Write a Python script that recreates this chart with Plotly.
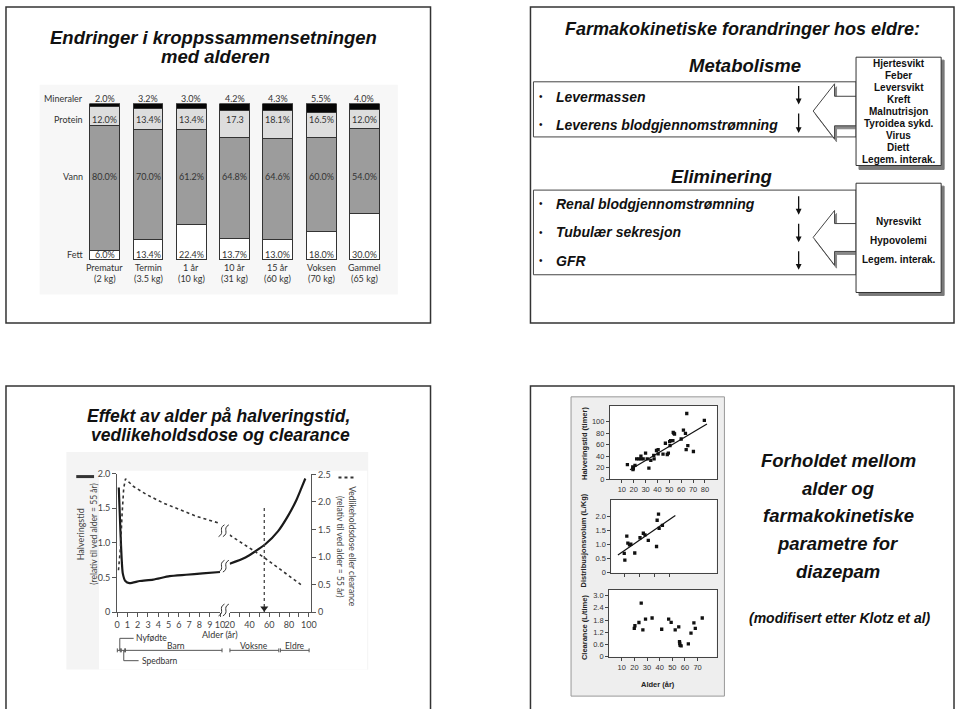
import plotly.graph_objects as go

W, H = 960, 709
def X(x): return x / W
def Y(y): return 1 - y / H

# ---------------- DATA ----------------
# Body composition (top-left slide)
comp_categories = ["Prematur", "Termin", "1 år", "10 år", "15 år", "Voksen", "Gammel"]
comp_weights = ["(2 kg)", "(3.5 kg)", "(10 kg)", "(31 kg)", "(60 kg)", "(70 kg)", "(65 kg)"]
fett = [6.0, 13.4, 22.4, 13.7, 13.0, 18.0, 30.0]
vann = [80.0, 70.0, 61.2, 64.8, 64.6, 60.0, 54.0]
protein = [12.0, 13.4, 13.4, 17.3, 18.1, 16.5, 12.0]
mineraler = [2.0, 3.2, 3.0, 4.2, 4.3, 5.5, 4.0]
mineraler_labels = ["2.0%", "3.2%", "3.0%", "4.2%", "4.3%", "5.5%", "4.0%"]
protein_labels = ["12.0%", "13.4%", "13.4%", "17.3", "18.1%", "16.5%", "12.0%"]
vann_labels = ["80.0%", "70.0%", "61.2%", "64.8%", "64.6%", "60.0%", "54.0%"]
fett_labels = ["6.0%", "13.4%", "22.4%", "13.7%", "13.0%", "18.0%", "30.0%"]

# Pharmacokinetic changes (top-right slide)
metab_items = ["Levermassen", "Leverens blodgjennomstrømning"]
metab_factors = ["Hjertesvikt", "Feber", "Leversvikt", "Kreft", "Malnutrisjon",
                 "Tyroidea sykd.", "Virus", "Diett", "Legem. interak."]
elim_items = ["Renal blodgjennomstrømning", "Tubulær sekresjon", "GFR"]
elim_factors = ["Nyresvikt", "Hypovolemi", "Legem. interak."]

# Age effect curves (bottom-left slide)
halv_age_a = [0.16, 0.26, 0.39, 0.55, 0.8, 1.2, 2.2, 3.5, 5.1, 6.7, 8.3, 10]
halv_val_a = [1.80, 1.41, 0.93, 0.56, 0.45, 0.42, 0.45, 0.47, 0.52, 0.54, 0.56, 0.58]
halv_age_b = [20, 36, 56, 69, 79, 87.5, 92.5, 96.5]
halv_val_b = [0.70, 0.79, 0.98, 1.17, 1.39, 1.62, 1.79, 1.93]
dose_age_a = [0.13, 0.33, 0.48, 0.64, 0.81, 1.6, 2.9, 4.5, 6.1, 7.7, 9.3, 10]
dose_val_a = [0.76, 1.18, 1.77, 2.25, 2.42, 2.28, 2.13, 1.98, 1.86, 1.74, 1.65, 1.61]
dose_age_b = [20, 55, 92]
dose_val_b = [1.40, 0.99, 0.50]
ref_age = [55, 55]
ref_val = [1.89, 0.0]
ticks_a = [0, 1, 2, 3, 4, 5, 6, 7, 8, 9, 10]
ticks_b = [20, 30, 40, 50, 60, 70, 80, 90, 100]
ticks_b_text = ["20", "", "40", "", "60", "", "80", "", "100"]

# Diazepam scatter plots (bottom-right slide)
thalf_age = [14.7, 19.2, 19.7, 19.4, 21.1, 22.5, 24.4, 26.1, 26.1, 28.0, 30.0, 31.4, 32.8,
             34.4, 36.9, 37.2, 39.2, 40.6, 40.6, 44.7, 46.7, 48.3, 49.2, 50.3, 50.6, 51.1,
             53.0, 53.3, 53.9, 54.4, 60.0, 61.9, 63.6, 64.2, 64.7, 65.6, 70.3, 79.5]
thalf_hours = [25.3, 21.3, 18.4, 16.7, 24.0, 35.6, 35.6, 35.6, 40.2, 35.6, 45.4, 35.6, 19.5,
               32.8, 41.4, 35.6, 50.0, 51.7, 44.3, 43.7, 62.6, 43.1, 45.4, 65.5, 58.6, 67.2,
               67.2, 81.6, 79.9, 78.7, 70.0, 85.6, 79.9, 51.7, 114.4, 58.6, 48.3, 102.3]
thalf_fit_age = [16.9, 81.7]
thalf_fit_val = [16.7, 96.0]

vd_age = [9.6, 10.0, 11.3, 12.0, 13.1, 14.0, 16.6, 20.1, 22.3, 23.4, 25.6, 31.1, 31.5,
          32.4, 32.8, 35.0]
vd_val = [0.69, 0.45, 1.30, 1.05, 0.99, 1.01, 0.70, 1.24, 1.40, 1.34, 1.15, 0.93, 1.86,
          2.08, 1.57, 1.68]
vd_fit_age = [5.4, 43.6]
vd_fit_val = [0.63, 2.03]

cl_age = [19.9, 20.4, 23.6, 25.4, 26.7, 28.8, 34.0, 41.6, 47.1, 49.1, 52.3, 55.1, 55.7,
          55.9, 56.2, 57.0, 62.7, 64.8, 67.1, 68.2, 73.7]
cl_val = [1.39, 1.52, 1.68, 2.63, 1.32, 1.85, 1.90, 1.35, 1.85, 1.69, 1.32, 1.47, 0.74,
          0.65, 0.56, 0.53, 0.63, 1.16, 1.66, 1.39, 1.90]

# ---------------- FIGURE ----------------
fig = go.Figure()
shapes = []
annotations = []

def rect(x0, y0, x1, y1, fill="rgba(0,0,0,0)", line="#333", width=1, layer="below"):
    shapes.append(dict(type="rect", xref="paper", yref="paper", x0=X(x0), x1=X(x1),
                       y0=Y(y1), y1=Y(y0), fillcolor=fill, layer=layer,
                       line=dict(color=line, width=width)))

def seg(x0, y0, x1, y1, color="#333", width=1, dash="solid", layer="above"):
    shapes.append(dict(type="line", xref="paper", yref="paper", x0=X(x0), x1=X(x1),
                       y0=Y(y0), y1=Y(y1), layer=layer,
                       line=dict(color=color, width=width, dash=dash)))

def poly(points, fill, line, width=1, layer="above"):
    d = "M " + " L ".join(f"{X(a):.5f},{Y(b):.5f}" for a, b in points) + " Z"
    shapes.append(dict(type="path", xref="paper", yref="paper", path=d, fillcolor=fill,
                       layer=layer, line=dict(color=line, width=width)))

def text(x, y, s, size=10, color="#111", family="Liberation Sans", weight="normal",
         style="normal", xanchor="center", angle=0, xref="paper"):
    annotations.append(dict(x=(X(x) if xref == "paper" else x), y=Y(y), xref=xref, yref="paper",
                            text=s, showarrow=False, xanchor=xanchor, yanchor="middle",
                            textangle=angle, borderpad=0,
                            font=dict(size=size, color=color, family=family,
                                      weight=weight, style=style)))

def brk(cx, cy):
    for dx in (-2.2, 2.2):
        a = cx + dx
        d = (f"M{X(a-3):.5f},{Y(cy+6):.5f} C{X(a+4):.5f},{Y(cy+2):.5f} "
             f"{X(a-4):.5f},{Y(cy-2):.5f} {X(a+3):.5f},{Y(cy-6):.5f}")
        shapes.append(dict(type="path", xref="paper", yref="paper", path=d,
                           line=dict(color="#333", width=1), layer="above"))

# Slide frames
rect(1, 1, 430, 322, fill="white", line="#333", width=1.5)
rect(531, 1, 959, 322, fill="white", line="#333", width=1.5)
rect(1, 386, 430, 716, fill="white", line="#333", width=1.5)
rect(531, 386, 959, 716, fill="white", line="#333", width=1.5)

# ---------- top-left: body composition ----------
text(211, 31.5, "Endringer i kroppssammensetningen", size=18.5, weight="bold", style="italic")
text(213, 51, "med alderen", size=18.5, weight="bold", style="italic")
rect(35, 80, 397, 293, fill="#f7f7f7", line="rgba(0,0,0,0)", width=0)

for name, vals, col in [("Fett", fett, "#ffffff"), ("Vann", vann, "#9c9c9c"),
                        ("Protein", protein, "#dddddd"), ("Mineraler", mineraler, "#060606")]:
    fig.add_trace(go.Bar(x=comp_categories, y=vals, name=name, width=0.69,
                         marker=dict(color=col, line=dict(color="#333", width=1)),
                         xaxis="x", yaxis="y", showlegend=False, hoverinfo="skip"))

rows = [("Mineraler", mineraler_labels, 94.3), ("Protein", protein_labels, 115),
        ("Vann", vann_labels, 173.3), ("Fett", fett_labels, 252.7)]
for rname, labels, ry in rows:
    text(80, ry, rname, size=9, color="#333", family="Lato", xanchor="right")
    for c, lab in zip(comp_categories, labels):
        text(c, ry, lab, size=9, color="#333", family="Lato", xref="x")
for c, wt in zip(comp_categories, comp_weights):
    text(c, 265.5, c, size=9, color="#333", family="Lato", xref="x")
    text(c, 277, wt, size=9, color="#333", family="Lato", xref="x")

# ---------- top-right: pharmacokinetic changes ----------
text(745, 23, "Farmakokinetiske forandringer hos eldre:", size=18, weight="bold", style="italic")
text(748, 60, "Metabolisme", size=18.5, weight="bold", style="italic")
text(724, 173, "Eliminering", size=18.5, weight="bold", style="italic")
rect(534, 77, 860, 133, fill="white", line="#444", width=1)
rect(534, 187, 860, 273, fill="white", line="#444", width=1)

def big_arrow(top, tip_y, bot, s_top, s_bot):
    pts = [(860, s_top), (838.3, s_top), (838.3, top), (816.7, tip_y), (838.3, bot),
           (838.3, s_bot), (860, s_bot)]
    poly([(a + 2, b + 3) for a, b in pts], fill="#888", line="#888", layer="below")
    poly(pts, fill="white", line="#444", width=1, layer="below")

big_arrow(79, 106.7, 135, 91.7, 121.7)
big_arrow(207.7, 235, 263.3, 221, 249.3)

rect(863, 55, 949, 166, fill="#7a7a7a", line="#7a7a7a")
rect(860, 52, 946, 162, fill="white", line="#333")
rect(863, 183, 949, 294, fill="#7a7a7a", line="#7a7a7a")
rect(860, 180, 946, 291, fill="white", line="#333")

for i, item in enumerate(metab_items):
    yy = 92 + i * 28.5
    text(542, yy, "•", size=10)
    text(556, yy, item, size=14, weight="bold", style="italic", xanchor="left")
for i, item in enumerate(elim_items):
    yy = 201 + i * 29
    text(542, yy, "•", size=10)
    text(556, yy, item, size=14, weight="bold", style="italic", xanchor="left")

for (t0, t1) in [(80, 100), (108, 129), (192, 212), (220, 240), (248, 268)]:
    annotations.append(dict(x=X(802), y=Y(t1), xref="paper", yref="paper", ax=0, ay=-(t1 - t0),
                            text="", showarrow=True, arrowhead=2, arrowsize=0.9,
                            arrowwidth=1.3, arrowcolor="#111"))

for i, f in enumerate(metab_factors):
    text(903, 58.3 + i * 12.17, f, size=10, weight="bold")
for i, f in enumerate(elim_factors):
    text(903, 219.3 + i * 19.2, f, size=10, weight="bold")

# ---------- bottom-left: curves ----------
text(216, 416.5, "Effekt av alder på halveringstid,", size=17.5, weight="bold", style="italic")
text(217.5, 435.5, "vedlikeholdsdose og clearance", size=17.5, weight="bold", style="italic")
rect(62, 453, 367, 674, fill="#f4f4f4", line="rgba(0,0,0,0)", width=0)
rect(95, 472, 366, 674, fill="#ffffff", line="rgba(0,0,0,0)", width=0)

fig.add_trace(go.Scatter(x=halv_age_a, y=halv_val_a, xaxis="x2", yaxis="y2", mode="lines",
                         line=dict(color="#1a1a1a", width=2.2, shape="spline", smoothing=0.6),
                         showlegend=False, hoverinfo="skip"))
fig.add_trace(go.Scatter(x=halv_age_b, y=halv_val_b, xaxis="x3", yaxis="y2", mode="lines",
                         line=dict(color="#1a1a1a", width=2.2, shape="spline", smoothing=0.6),
                         showlegend=False, hoverinfo="skip"))
fig.add_trace(go.Scatter(x=dose_age_a, y=dose_val_a, xaxis="x2", yaxis="y3", mode="lines",
                         line=dict(color="#333", width=1.6, dash="dot"),
                         showlegend=False, hoverinfo="skip"))
fig.add_trace(go.Scatter(x=dose_age_b, y=dose_val_b, xaxis="x3", yaxis="y3", mode="lines",
                         line=dict(color="#333", width=1.6, dash="dot"),
                         showlegend=False, hoverinfo="skip"))
fig.add_trace(go.Scatter(x=ref_age, y=ref_val, xaxis="x3", yaxis="y3", mode="lines",
                         line=dict(color="#444", width=1.3, dash="dot"),
                         showlegend=False, hoverinfo="skip"))
fig.add_trace(go.Scatter(x=[ref_age[1]], y=[ref_val[1] + 0.07], xaxis="x3", yaxis="y3",
                         mode="markers", marker=dict(symbol="triangle-down", size=7, color="#222"),
                         showlegend=False, hoverinfo="skip"))

brk(221, 613.5)
brk(221, 569)
brk(221, 533)
seg(72, 478, 90, 478, color="#333", width=3)
seg(337, 479, 355, 479, color="#333", width=2, dash="dot")

text(76.5, 537, "Halveringstid", size=9, color="#444", family="Lato", angle=-90)
text(90, 537, "(relativ til ved alder = 55 år)", size=8.5, color="#444", family="Lato", angle=-90)
text(350, 549, "Vedlikeholdsdose eller clearance", size=8.5, color="#444", family="Lato", angle=90)
text(338, 549, "(relativ til ved alder = 55 år)", size=8.5, color="#444", family="Lato", angle=90)
text(217, 638, "Alder (år)", size=9, color="#333", family="Lato")

# age-group bars
for a, b in [(113.5, 116.5), (117.5, 121), (121.7, 219.3), (227.3, 276.7), (278.3, 307.3)]:
    seg(a, 654.5, b, 654.5, color="#555", width=1)
    seg(a, 652.5, a, 656.5, color="#555", width=1)
    seg(b, 652.5, b, 656.5, color="#555", width=1)
seg(116, 654.5, 116, 642.3, color="#555", width=1)
seg(116, 642.3, 130, 642.3, color="#555", width=1)
seg(120, 654.5, 120, 665, color="#555", width=1)
seg(120, 665, 135, 665, color="#555", width=1)
text(131.5, 642, "Nyfødte", size=8.5, color="#333", family="Lato", xanchor="left")
text(137, 665, "Spedbarn", size=8.5, color="#333", family="Lato", xanchor="left")
text(173, 650.5, "Barn", size=8.5, color="#333", family="Lato")
text(252, 650.5, "Voksne", size=8.5, color="#333", family="Lato")
text(293, 650.5, "Eldre", size=8.5, color="#333", family="Lato")

# ---------- bottom-right: diazepam ----------
rect(572, 397, 727, 701, fill="#eeeeee", line="#999", width=1)
rect(611.3, 406, 719.3, 480.7, fill="white", line="rgba(0,0,0,0)", width=0)
rect(612.7, 501.7, 719, 575.7, fill="white", line="rgba(0,0,0,0)", width=0)
rect(610.5, 593.3, 719, 661, fill="white", line="rgba(0,0,0,0)", width=0)

mk = dict(symbol="square", size=3.3, color="#111")
fig.add_trace(go.Scatter(x=thalf_age, y=thalf_hours, xaxis="x4", yaxis="y4", mode="markers",
                         marker=mk, showlegend=False, hoverinfo="skip"))
fig.add_trace(go.Scatter(x=thalf_fit_age, y=thalf_fit_val, xaxis="x4", yaxis="y4", mode="lines",
                         line=dict(color="#111", width=1.2), showlegend=False, hoverinfo="skip"))
fig.add_trace(go.Scatter(x=vd_age, y=vd_val, xaxis="x5", yaxis="y5", mode="markers",
                         marker=mk, showlegend=False, hoverinfo="skip"))
fig.add_trace(go.Scatter(x=vd_fit_age, y=vd_fit_val, xaxis="x5", yaxis="y5", mode="lines",
                         line=dict(color="#111", width=1.2), showlegend=False, hoverinfo="skip"))
fig.add_trace(go.Scatter(x=cl_age, y=cl_val, xaxis="x6", yaxis="y6", mode="markers",
                         marker=mk, showlegend=False, hoverinfo="skip"))

text(585, 444, "Halveringstid (timer)", size=7.5, weight="bold", color="#222", angle=-90)
text(585, 543, "Distribusjonsvolum (L/Kg)", size=7.5, weight="bold", color="#222", angle=-90)
text(585, 631, "Clearance (L/time)", size=7.5, weight="bold", color="#222", angle=-90)
text(660, 689, "Alder (år)", size=7.5, weight="bold", color="#222")

rtxt = ["Forholdet mellom", "alder og", "farmakokinetiske", "parametre for", "diazepam"]
for i, s in enumerate(rtxt):
    text(842, 462 + i * 28, s, size=18.5, weight="bold", style="italic")
text(844, 621.5, "(modifisert etter Klotz et al)", size=14, style="italic", weight="bold")

# ---------------- AXES ----------------
def dom_x(a, b): return [X(a), X(b)]
def dom_y(top, bot): return [Y(bot), Y(top)]

ax_common = dict(showgrid=False, zeroline=False, fixedrange=True)
small_font = dict(size=7.5, color="#333", family="Liberation Sans")
curve_font = dict(size=9, color="#444", family="Lato")

fig.update_layout(
    width=W, height=H, margin=dict(l=0, r=0, t=0, b=0),
    paper_bgcolor="white", plot_bgcolor="rgba(0,0,0,0)", barmode="stack",
    showlegend=False, font=dict(family="Liberation Sans"),
    xaxis=dict(domain=dom_x(79, 385), anchor="y", range=[-0.5, 6.5], type="category",
               showticklabels=False, ticks="", showline=False, **ax_common),
    yaxis=dict(domain=dom_y(99, 258), anchor="x", range=[0, 100], visible=False, **ax_common),
    xaxis2=dict(domain=dom_x(113.3, 217.5), anchor="y2", range=[0, 10.02], tickvals=ticks_a,
                ticks="outside", ticklen=4, tickcolor="#555", showline=True, linecolor="#555",
                linewidth=1, tickfont=curve_font, **ax_common),
    yaxis2=dict(domain=dom_y(475, 615.7), anchor="x2", range=[0, 2.0],
                tickvals=[0, 0.5, 1.0, 1.5, 2.0], ticktext=["0", "0.5", "1.0", "1.5", "2.0"],
                ticks="outside", ticklen=4, tickcolor="#555", showline=True, linecolor="#555",
                linewidth=1, tickfont=curve_font, **ax_common),
    xaxis3=dict(domain=dom_x(227, 309.5), anchor="y3", range=[20, 102.5], tickvals=ticks_b,
                ticktext=ticks_b_text, ticks="outside", ticklen=4, tickcolor="#555",
                showline=True, linecolor="#555", linewidth=1, tickfont=curve_font, **ax_common),
    yaxis3=dict(domain=dom_y(475.8, 615.7), anchor="x3", side="right", range=[0, 2.5],
                tickvals=[0, 0.5, 1.0, 1.5, 2.0, 2.5],
                ticktext=["0", "0.5", "1.0", "1.5", "2.0", "2.5"],
                ticks="outside", ticklen=4, tickcolor="#555", showline=True, linecolor="#555",
                linewidth=1, tickfont=curve_font, **ax_common),
    xaxis4=dict(domain=dom_x(611.3, 719.3), anchor="y4", range=[0, 90],
                tickvals=[10, 20, 30, 40, 50, 60, 70, 80], ticks="outside", ticklen=3,
                showline=True, mirror=True, linecolor="#444", tickfont=small_font, **ax_common),
    yaxis4=dict(domain=dom_y(406, 480.7), anchor="x4", range=[0, 128],
                tickvals=[0, 20, 40, 60, 80, 100], ticks="outside", ticklen=3,
                showline=True, mirror=True, linecolor="#444", tickfont=small_font, **ax_common),
    xaxis5=dict(domain=dom_x(612.7, 719), anchor="y5", range=[1, 71],
                tickvals=[10, 20, 30, 40], showticklabels=False, ticks="outside", ticklen=3,
                showline=True, mirror=True, linecolor="#444", **ax_common),
    yaxis5=dict(domain=dom_y(501.7, 575.7), anchor="x5", range=[0, 2.58],
                tickvals=[0, 0.5, 1.0, 1.5, 2.0], ticktext=["0", "0.5", "1.0", "1.5", "2.0"],
                ticks="outside", ticklen=3, showline=True, mirror=True, linecolor="#444",
                tickfont=small_font, **ax_common),
    xaxis6=dict(domain=dom_x(610.5, 719), anchor="y6", range=[0, 85],
                tickvals=[10, 20, 30, 40, 50, 60, 70], ticks="outside", ticklen=3,
                showline=True, mirror=True, linecolor="#444", tickfont=small_font, **ax_common),
    yaxis6=dict(domain=dom_y(593.3, 661), anchor="x6", range=[0, 3.27],
                tickvals=[0, 0.6, 1.2, 1.8, 2.4, 3.0],
                ticktext=["0", "0.6", "1.2", "1.8", "2.4", "3.0"], ticks="outside", ticklen=3,
                showline=True, mirror=True, linecolor="#444", tickfont=small_font, **ax_common),
    shapes=shapes, annotations=annotations,
)

fig.write_html("out.html", post_script="document.body.style.margin='0';")
